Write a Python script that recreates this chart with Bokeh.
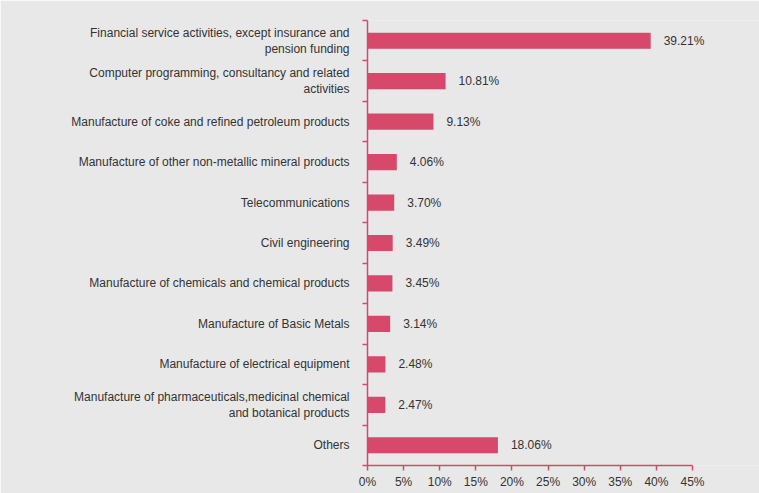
from bokeh.plotting import figure
from bokeh.models import ColumnDataSource, Range1d, FixedTicker, PrintfTickFormatter, LinearAxis
from bokeh.core.properties import value
from bokeh.embed import file_html
from bokeh.resources import INLINE

categories = [
    "Financial service activities, except insurance and\npension funding",
    "Computer programming, consultancy and related\nactivities",
    "Manufacture of coke and refined petroleum products",
    "Manufacture of other non-metallic mineral products",
    "Telecommunications",
    "Civil engineering",
    "Manufacture of chemicals and chemical products",
    "Manufacture of Basic Metals",
    "Manufacture of electrical equipment",
    "Manufacture of pharmaceuticals,medicinal chemical\nand botanical products",
    "Others",
]
shares = [39.21, 10.81, 9.13, 4.06, 3.70, 3.49, 3.45, 3.14, 2.48, 2.47, 18.06]
x_ticks = [0, 5, 10, 15, 20, 25, 30, 35, 40, 45]

BAR = "#D6496B"
TXT = "#333333"
BG = "#E8E8E8"
FONT = "Liberation Sans"

n = len(categories)
ys = [n - i - 0.5 for i in range(n)]
src = ColumnDataSource(dict(
    y=ys, v=shares, lab=["%.2f%%" % s for s in shares]
))

x_end = 45 * (759 - 367) / (692 - 367)
p = figure(width=759, height=493, output_backend="svg", toolbar_location=None,
           x_range=Range1d(0, x_end), y_range=Range1d(0, n),
           x_axis_type=None, y_axis_type=None,
           min_border_left=367, min_border_right=0, min_border_top=20, min_border_bottom=28)
p.background_fill_color = BG
p.border_fill_color = BG
p.outline_line_color = None
p.xgrid.visible = False
p.ygrid.visible = False

p.hbar(y="y", right="v", left=0, height=0.4, source=src, color=BAR, line_color=None)
p.text(x="v", y="y", text="lab", source=src, x_offset=13, text_baseline="middle",
       text_align="left", text_font=value(FONT), text_font_size="12px", text_color=TXT)

# y axis
ya = LinearAxis(ticker=FixedTicker(ticks=ys, minor_ticks=list(range(n + 1))))
ya.major_label_overrides = {y: c for y, c in zip(ys, categories)}
ya.major_tick_out = 0
ya.major_tick_in = 0
ya.minor_tick_out = 5
ya.minor_tick_in = 0
ya.minor_tick_line_color = BAR
ya.minor_tick_line_width = 1.5
ya.axis_line_color = BAR
ya.axis_line_width = 1.5
ya.major_label_standoff = 13
ya.major_label_text_font = FONT
ya.major_label_text_font_size = "12px"
ya.major_label_text_color = TXT
ya.major_label_text_line_height = 1.15
ya.major_label_text_align = "right"
p.add_layout(ya, "left")

# x axis
xa = LinearAxis(ticker=FixedTicker(ticks=x_ticks, minor_ticks=[]),
                formatter=PrintfTickFormatter(format="%d%%"), bounds=(0, 45))
xa.axis_line_color = BAR
xa.axis_line_width = 1.5
xa.major_tick_line_color = BAR
xa.major_tick_line_width = 1.5
xa.major_tick_out = 5
xa.major_tick_in = 0
xa.minor_tick_out = 0
xa.minor_tick_in = 0
xa.major_label_standoff = 4
xa.major_label_text_font = FONT
xa.major_label_text_font_size = "12px"
xa.major_label_text_color = TXT
p.add_layout(xa, "below")

open("out.html", "w").write(file_html(p, INLINE))
